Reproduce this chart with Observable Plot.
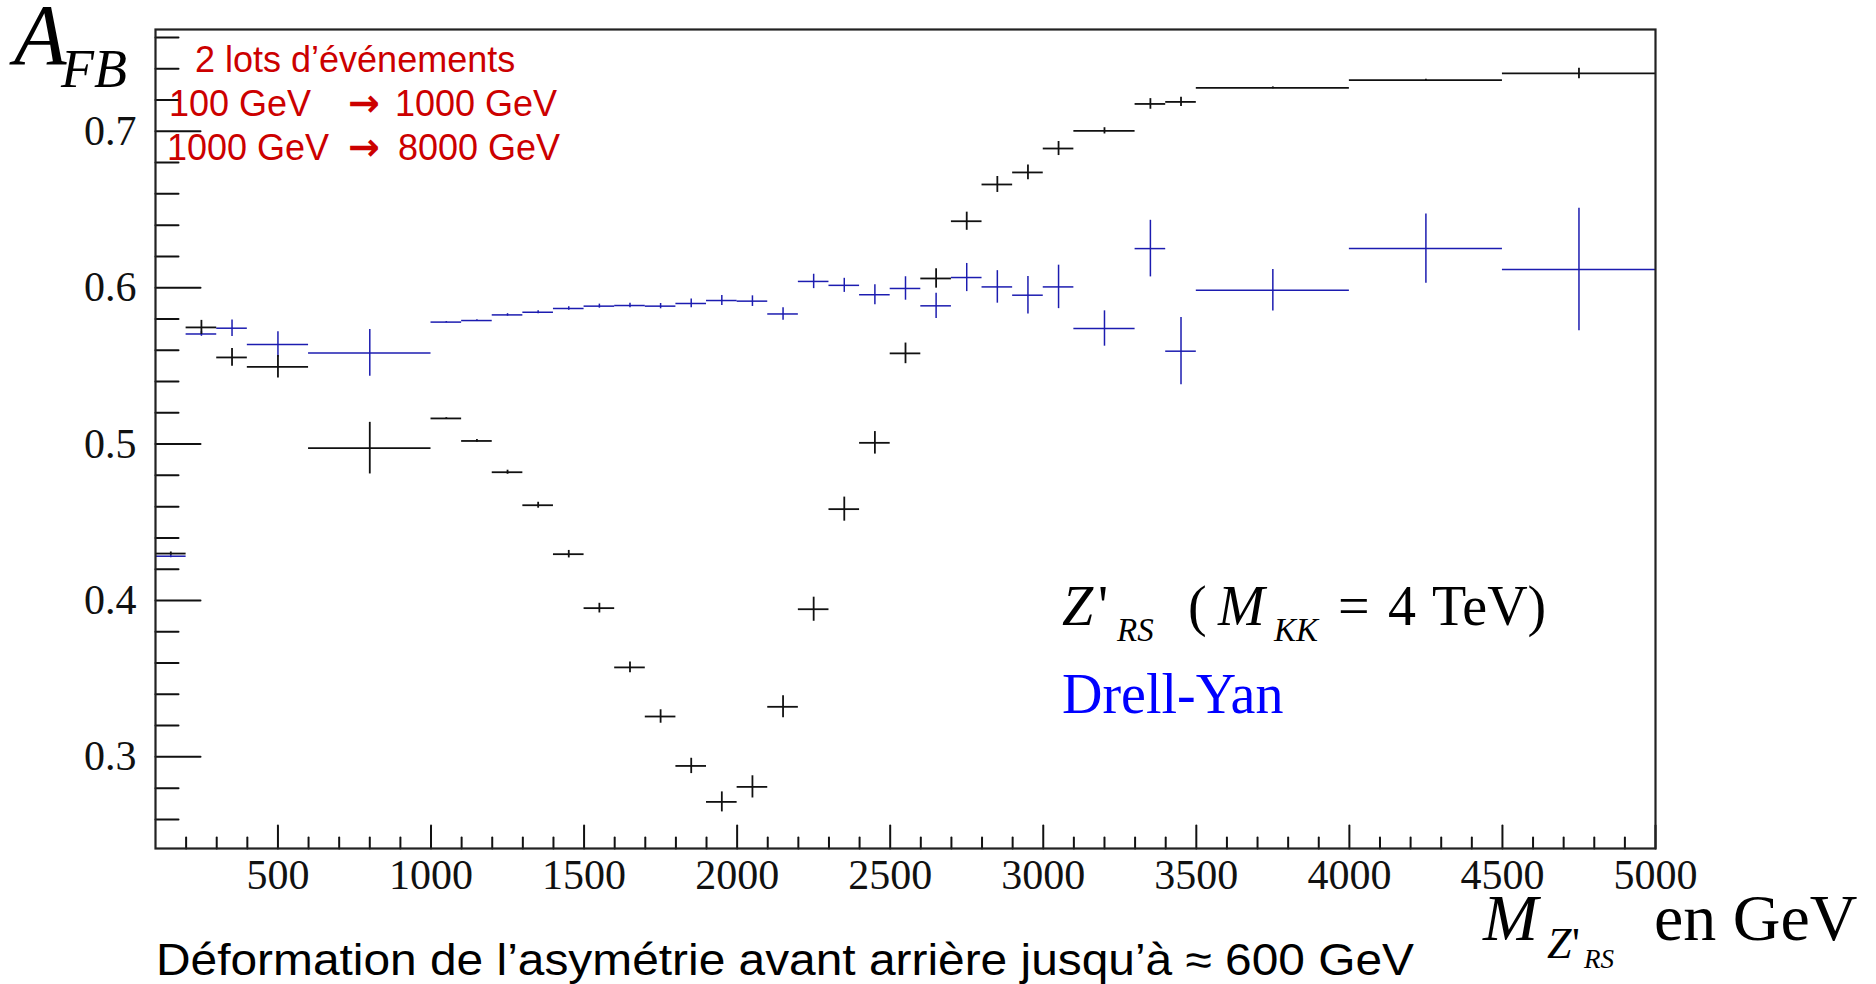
<!DOCTYPE html>
<html>
<head>
<meta charset="utf-8">
<script src="https://cdn.jsdelivr.net/npm/d3@7"></script>
<script src="https://cdn.jsdelivr.net/npm/@observablehq/plot@0.6"></script>
<style>
  html, body { margin: 0; padding: 0; background: #fff; }
  #chart svg { display: block; }
</style>
</head>
<body>
<div id="chart"></div>
<script>
// ---- Data (bins in GeV, forward-backward asymmetry A_FB) ----
const binLo = [100, 200, 300, 400, 600, 1000, 1100, 1200, 1300, 1400, 1500, 1600, 1700, 1800, 1900, 2000, 2100, 2200, 2300, 2400, 2500, 2600, 2700, 2800, 2900, 3000, 3100, 3300, 3400, 3500, 4000, 4500];
const binHi = [200, 300, 400, 600, 1000, 1100, 1200, 1300, 1400, 1500, 1600, 1700, 1800, 1900, 2000, 2100, 2200, 2300, 2400, 2500, 2600, 2700, 2800, 2900, 3000, 3100, 3300, 3400, 3500, 4000, 4500, 5000];

// Z'_RS (M_KK = 4 TeV) — black
const zrsAfb = [0.430, 0.5746, 0.5554, 0.5494, 0.4974, 0.5164, 0.5020, 0.4820, 0.4609, 0.4296, 0.3951, 0.3572, 0.3258, 0.2942, 0.2712, 0.2808, 0.3320, 0.3944, 0.4584, 0.5008, 0.5580, 0.6059, 0.6425, 0.6660, 0.6737, 0.6890, 0.7003, 0.7175, 0.7188, 0.7278, 0.7327, 0.7370];
const zrsErr = [0.001, 0.0045, 0.0057, 0.0072, 0.0165, 0.0005, 0.0009, 0.0013, 0.0019, 0.0024, 0.0031, 0.0034, 0.0043, 0.0049, 0.0064, 0.0071, 0.0070, 0.0077, 0.0077, 0.0072, 0.0066, 0.0062, 0.0058, 0.0051, 0.0047, 0.0045, 0.0020, 0.0034, 0.0030, 0.0006, 0.0006, 0.0034];

// Drell-Yan — blue
const dyAfb = [0.4283, 0.5704, 0.5741, 0.5637, 0.5583, 0.5780, 0.5790, 0.5826, 0.5843, 0.5867, 0.5882, 0.5886, 0.5882, 0.5899, 0.5918, 0.5914, 0.5832, 0.6040, 0.6015, 0.5955, 0.5995, 0.5884, 0.6065, 0.6005, 0.5952, 0.6005, 0.5739, 0.6250, 0.5594, 0.5984, 0.6250, 0.6116];
const dyErr = [0.001, 0.0015, 0.0053, 0.0081, 0.0149, 0.0004, 0.0005, 0.0008, 0.0010, 0.0011, 0.0013, 0.0015, 0.0017, 0.0028, 0.0032, 0.0034, 0.0040, 0.0046, 0.0045, 0.0064, 0.0075, 0.0081, 0.0090, 0.0104, 0.0120, 0.0139, 0.0113, 0.0181, 0.0215, 0.0133, 0.0222, 0.0392];

// Axis ticks
const xTickLabels = [500, 1000, 1500, 2000, 2500, 3000, 3500, 4000, 4500, 5000];
const yTickLabels = [0.3, 0.4, 0.5, 0.6, 0.7];
const xMinorTicks = d3.range(200, 5000, 100).filter(v => v % 500 !== 0);
const yMinorTicks = d3.range(0.26, 0.77, 0.02).map(v => +v.toFixed(2)).filter(v => Math.abs(v * 10 - Math.round(v * 10)) > 1e-6);

// ---- Layout / style ----
const W = 1876, H = 984;
const xDomain = [100, 5000];
const yDomain = [0.2414, 0.7651];
const BLUE_LINE = "#1c1cb0";
const INK = "#111";
const serif = "'Liberation Serif', 'Times New Roman', serif";
const sans = "'Liberation Sans', Arial, sans-serif";

const rows = (vals, errs) => binLo.map((lo, i) => ({lo, hi: binHi[i], mid: (lo + binHi[i]) / 2, v: vals[i], e: errs[i]}));
const zrs = rows(zrsAfb, zrsErr);
const dy = rows(dyAfb, dyErr);

const tickShape = {draw(ctx, l) { ctx.moveTo(0, 0); ctx.lineTo(0, -l); }};

const errorBars = (data, stroke, sw) => [
  Plot.ruleY(data, {y: "v", x1: "lo", x2: "hi", stroke, strokeWidth: sw}),
  Plot.ruleX(data, {x: "mid", y1: d => d.v - d.e, y2: d => d.v + d.e, stroke, strokeWidth: sw})
];

const svg = Plot.plot({
  width: W,
  height: H,
  marginLeft: 155,
  marginRight: 221,
  marginTop: 29,
  marginBottom: 136,
  style: {background: "#fff"},
  x: {domain: xDomain, axis: null},
  y: {domain: yDomain, axis: null},
  marks: [
    ...errorBars(dy, BLUE_LINE, 1.5),
    ...errorBars(zrs, INK, 1.8),
    // inward ticks
    Plot.vector(xMinorTicks, {x: d => d, y: yDomain[0], length: 11, anchor: "start", shape: tickShape, stroke: INK, strokeWidth: 2}),
    Plot.vector(xTickLabels, {x: d => d, y: yDomain[0], length: 23, anchor: "start", shape: tickShape, stroke: INK, strokeWidth: 2}),
    Plot.vector(yMinorTicks, {x: xDomain[0], y: d => d, rotate: 90, length: 23, anchor: "start", shape: tickShape, stroke: INK, strokeWidth: 2}),
    Plot.vector(yTickLabels, {x: xDomain[0], y: d => d, rotate: 90, length: 45, anchor: "start", shape: tickShape, stroke: INK, strokeWidth: 2}),
    Plot.frame({stroke: "#222", strokeWidth: 2.2}),
    // tick labels
    Plot.text(xTickLabels, {x: d => d, y: yDomain[0], dy: 27, text: d => String(d), fontSize: 42, fontFamily: serif, fill: INK}),
    Plot.text(yTickLabels, {x: xDomain[0], y: d => d, dx: -19, textAnchor: "end", text: d => d.toFixed(1), fontSize: 42, fontFamily: serif, fill: INK})
  ]
});

document.getElementById("chart").appendChild(svg);

// ---- Rich-text annotations (sub/superscripts) ----
const g = d3.select(svg).append("g").attr("text-anchor", "start");
function label(x, y, str, size, o = {}) {
  const t = g.append("text")
    .attr("x", x).attr("y", y)
    .attr("text-anchor", o.anchor || "start")
    .style("text-anchor", o.anchor || "start")
    .style("font-size", size + "px")
    .style("font-family", o.family || serif)
    .style("font-style", o.italic ? "italic" : "normal")
    .style("font-weight", o.bold ? "bold" : "normal")
    .attr("fill", o.fill || "#000")
    .text(str);
  if (o.length) t.attr("textLength", o.length).attr("lengthAdjust", "spacingAndGlyphs");
  return t;
}

// Y axis title A_FB
label(14, 64, "A", 86, {italic: true});
label(61, 87, "FB", 54, {italic: true});

// Red notes
const RED = "#cc0000";
const arrowFont = "'DejaVu Sans', sans-serif";
label(195, 72, "2 lots d’événements", 36, {family: sans, fill: RED});
label(169, 116, "100 GeV", 36, {family: sans, fill: RED});
label(348, 116, "→", 38, {family: arrowFont, fill: RED, bold: true});
label(395, 116, "1000 GeV", 36, {family: sans, fill: RED});
label(167, 160, "1000 GeV", 36, {family: sans, fill: RED});
label(348, 160, "→", 38, {family: arrowFont, fill: RED, bold: true});
label(398, 160, "8000 GeV", 36, {family: sans, fill: RED});

// Legend texts in the plot
label(1062, 625, "Z", 56, {italic: true});
label(1098, 625, "'", 56);
label(1117, 641, "RS", 33, {italic: true});
label(1188, 625, "(", 56);
label(1218, 625, "M", 56, {italic: true});
label(1274, 641, "KK", 33, {italic: true});
label(1338, 625, "=", 56);
label(1388, 625, "4", 56);
label(1432, 625, "TeV)", 56);
label(1062, 713, "Drell-Yan", 56, {fill: "#0000ff"});

// X axis title
label(1483, 940, "M", 66, {italic: true});
label(1547, 958, "Z", 44, {italic: true});
label(1572, 958, "'", 44);
label(1584, 968, "RS", 27, {italic: true});
label(1654, 940, "en GeV", 66);

// Caption
label(156, 975, "Déformation de l’asymétrie avant arrière jusqu’à ≈ 600 GeV", 44, {family: sans, length: 1258});
</script>
</body>
</html>
